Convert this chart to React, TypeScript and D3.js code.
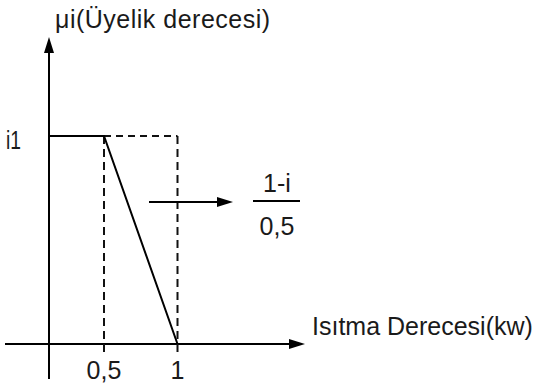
import React from "react";
import * as d3 from "d3";

// Membership function: flat at i1 up to 0,5 then falling to 0 at 1
const membershipX = [0, 0.5, 1];
const membershipY = [1, 1, 0];
const xTickValues = [0.5, 1];
const xTickLabels = ["0,5", "1"];
const yTickLabel = "i1";
const yAxisTitle = "μi(Üyelik derecesi)";
const xAxisTitle = "Isıtma Derecesi(kw)";
const fractionTop = "1-i";
const fractionBottom = "0,5";

const W = 537;
const H = 387;
const FONT = "'Liberation Sans', Arial, sans-serif";
const FS = 25;
const INK = "#1a1a1a";

export default function App() {
  // schematic (non-uniform) horizontal scale
  const x = d3.scaleLinear().domain([0, 0.5, 1]).range([49, 104, 177.5]);
  const y = d3.scaleLinear().domain([0, 1]).range([344, 136]);

  const line = d3
    .line<number>()
    .x((_, i) => x(membershipX[i]))
    .y((d) => y(d));
  const path = line(membershipY) || "";

  const x0 = x(0);
  const y0 = y(0);
  const yTop = y(1);

  return (
    <svg
      width={W}
      height={H}
      style={{ position: "absolute", left: 0, top: 0, background: "#fff" }}
      fontFamily={FONT}
    >
      {/* y axis with arrow */}
      <line x1={x0} y1={379} x2={x0} y2={50} stroke="#000" strokeWidth={2} />
      <path d={`M${x0},37 L${x0 - 5},53 L${x0 + 5},53 Z`} fill="#000" />
      {/* x axis with arrow */}
      <line x1={5} y1={y0} x2={290} y2={y0} stroke="#000" strokeWidth={2} />
      <path d={`M305,${y0} L289,${y0 - 5} L289,${y0 + 5} Z`} fill="#000" />

      {/* dashed guides */}
      {xTickValues.map((v) => (
        <line
          key={"v" + v}
          x1={x(v)}
          x2={x(v)}
          y1={yTop}
          y2={y0 + 12}
          stroke="#111"
          strokeWidth={2}
          strokeDasharray="8,5"
        />
      ))}
      <line
        x1={x(0.5)}
        x2={x(1)}
        y1={yTop}
        y2={yTop}
        stroke="#111"
        strokeWidth={2}
        strokeDasharray="7,5"
      />

      {/* membership function */}
      <path d={path} fill="none" stroke="#000" strokeWidth={2} />

      {/* tick labels */}
      {xTickValues.map((v, i) => (
        <text
          key={"t" + v}
          x={x(v)}
          y={379}
          textAnchor="middle"
          fontSize={FS}
          fill={INK}
        >
          {xTickLabels[i]}
        </text>
      ))}
      <text
        x={6}
        y={149}
        fontSize={FS}
        fill={INK}
        textLength={15}
        lengthAdjust="spacingAndGlyphs"
      >
        {yTickLabel}
      </text>

      {/* titles */}
      <text x={55} y={28} fontSize={FS} fill={INK} letterSpacing={0.5}>
        {yAxisTitle}
      </text>
      <text x={312} y={335} fontSize={FS} fill={INK}>
        {xAxisTitle}
      </text>

      {/* slope annotation */}
      <line x1={149} y1={202} x2={220} y2={202} stroke="#000" strokeWidth={2} />
      <path d="M233,202 L217,197 L217,207 Z" fill="#000" />
      <line x1={253} y1={201} x2={300} y2={201} stroke="#000" strokeWidth={1.8} />
      <text x={277} y={192} textAnchor="middle" fontSize={FS} fill={INK}>
        {fractionTop}
      </text>
      <text x={277} y={235} textAnchor="middle" fontSize={FS} fill={INK}>
        {fractionBottom}
      </text>
    </svg>
  );
}
